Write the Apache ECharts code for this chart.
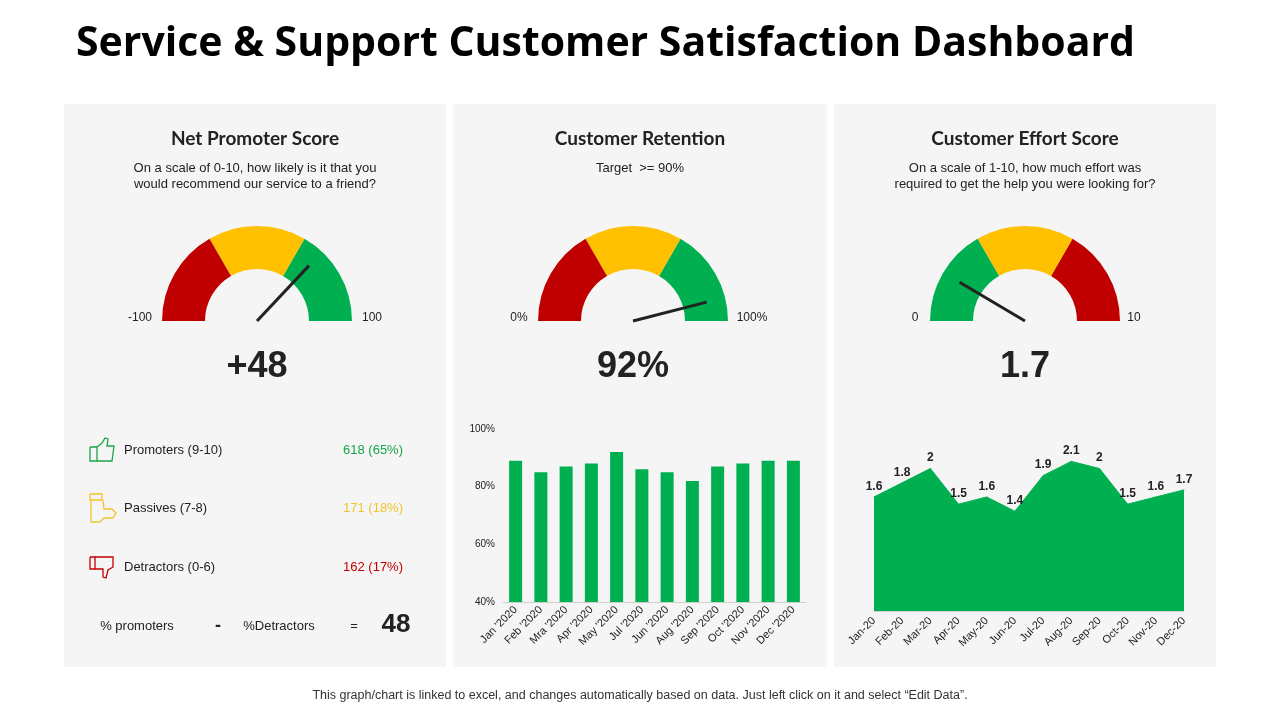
<!DOCTYPE html>
<html><head><meta charset="utf-8">
<script src="https://cdn.jsdelivr.net/npm/echarts@6/dist/echarts.min.js"></script>
<style>html,body{margin:0;padding:0;background:#fff}#c{width:1280px;height:720px}</style>
</head><body><div id="c"></div>
<script>
const retentionMonths = ["Jan '2020","Feb '2020","Mra '2020","Apr '2020","May '2020","Jul '2020","Jun '2020","Aug '2020","Sep '2020","Oct '2020","Nov '2020","Dec '2020"];
const retentionValues = [89,85,87,88,92,86,85,82,87,88,89,89];
const effortMonths = ["Jan-20","Feb-20","Mar-20","Apr-20","May-20","Jun-20","Jul-20","Aug-20","Sep-20","Oct-20","Nov-20","Dec-20"];
const effortValues = [1.6,1.8,2,1.5,1.6,1.4,1.9,2.1,2,1.5,1.6,1.7];
const npsValue = 48, retentionValue = 92, effortValue = 1.7;
const npsRows = [["Promoters (9-10)","618 (65%)","#1aa34a"],["Passives (7-8)","171 (18%)","#f2c42c"],["Detractors (0-6)","162 (17%)","#c00000"]];

const RED='#c00000', YEL='#ffc000', GRN='#00b050', TXT='#222';
const F='Lato, "Liberation Sans", sans-serif', A='"Liberation Sans", Arial, sans-serif';
const chart = echarts.init(document.getElementById('c'));

function gauge(cx, min, max, value, colors){
  return {type:'gauge', center:[cx,321], radius:95, min:min, max:max, startAngle:180, endAngle:0,
    axisLine:{lineStyle:{width:43, color:colors}},
    splitLine:{show:false}, axisTick:{show:false}, axisLabel:{show:false},
    pointer:{icon:'rect', length:'80%', width:3, offsetCenter:[0,0], itemStyle:{color:'#222'}},
    anchor:{show:false}, title:{show:false},
    detail:{offsetCenter:[0,'48%'], fontSize:36, fontWeight:'bold', color:TXT, fontFamily:A,
      formatter:function(v){return cx<400?'+'+v:(cx<800?v+'%':v.toFixed(1));}},
    data:[{value:value}], animation:false};
}
const g=[];
[[64,382],[453,374],[834,382]].forEach(p=>g.push({type:'rect',shape:{x:p[0],y:104,width:p[1],height:563},style:{fill:'#f5f5f5'},z:-10}));
function t(x,y,text,size,opt){return {type:'text',x:x,y:y,style:Object.assign({text:text,fontSize:size,fontFamily:A,fill:TXT,textAlign:'center',textVerticalAlign:'middle'},opt||{})};}
function pl(pts,c){return {type:'polyline',shape:{points:pts},style:{fill:'none',stroke:c,lineWidth:1.3}};}
g.push(t(76,44,'Service & Support Customer Satisfaction Dashboard',41,{textAlign:'left',fontWeight:'bold',fontFamily:'"Open Sans", sans-serif',fill:'#000'}));
g.push(t(255,139,'Net Promoter Score',19,{fontWeight:'bold',fontFamily:F}));
g.push(t(640,139,'Customer Retention',19,{fontWeight:'bold',fontFamily:F}));
g.push(t(1025,139,'Customer Effort Score',19,{fontWeight:'bold',fontFamily:F}));
g.push(t(255,176,'On a scale of 0-10, how likely is it that you\nwould recommend our service to a friend?',13,{lineHeight:16}));
g.push(t(640,168,'Target  >= 90%',13));
g.push(t(1025,176,'On a scale of 1-10, how much effort was\nrequired to get the help you were looking for?',13,{lineHeight:16}));
g.push(t(140,318,'-100',12),t(372,318,'100',12),t(519,318,'0%',12),t(752,318,'100%',12),t(915,318,'0',12),t(1134,318,'10',12));
npsRows.forEach((r,i)=>{const y=450+i*58.5;
  g.push(t(124,y,r[0],13,{textAlign:'left'}),t(403,y,r[1],13,{textAlign:'right',fill:r[2]}));});
g.push(pl([[90,447],[97,447],[97,461],[90,461],[90,447]],'#1aa34a'));
g.push(pl([[97,447],[102,443],[105,438],[108,439],[107,446],[114,446],[112,461],[97,461]],'#1aa34a'));
g.push(pl([[90,494],[102,494],[102,500],[90,500],[90,494]],'#f2c42c'));
g.push(pl([[91,500],[91,522],[100,522],[104,518],[113,518],[116,513],[112,509],[104,509],[103,500]],'#f2c42c'));
g.push(pl([[90,557],[95,557],[95,569],[90,569],[90,557]],'#c00000'));
g.push(pl([[95,557],[113,557],[113,567],[108,570],[106,578],[103,577],[103,569],[95,569]],'#c00000'));
g.push(t(137,626,'% promoters',13),t(218,626,'-',18,{fontWeight:'bold'}),t(279,626,'%Detractors',13),t(354,626,'=',13),t(396,625,String(npsValue),26,{fontWeight:'bold'}));
g.push(t(640,696,'This graph/chart is linked to excel, and changes automatically based on data. Just left click on it and select “Edit Data”.',12.5,{fill:'#333'}));

chart.setOption({
  animation:false,
  graphic:g,
  grid:[{left:503,top:429,width:303,height:173},{left:874,top:440,width:310,height:171}],
  xAxis:[
    {gridIndex:0,type:'category',data:retentionMonths,axisTick:{show:false},axisLine:{lineStyle:{color:'#d0d0d0'}},axisLabel:{rotate:45,fontSize:11,color:TXT,fontFamily:A,interval:0,margin:6}},
    {gridIndex:1,type:'category',data:effortMonths,boundaryGap:false,axisTick:{show:false},axisLine:{lineStyle:{color:'#d0d0d0'}},axisLabel:{rotate:45,fontSize:11,color:TXT,fontFamily:A,interval:0,margin:8}}
  ],
  yAxis:[
    {gridIndex:0,type:'value',min:40,max:100,interval:20,splitLine:{show:false},axisLine:{show:false},axisTick:{show:false},axisLabel:{formatter:'{value}%',fontSize:10,color:TXT,fontFamily:A}},
    {gridIndex:1,type:'value',min:0,max:2.4,show:false,splitLine:{show:false}}
  ],
  series:[
    gauge(257,-100,100,npsValue,[[1/3,RED],[2/3,YEL],[1,GRN]]),
    gauge(633,0,100,retentionValue,[[1/3,RED],[2/3,YEL],[1,GRN]]),
    gauge(1025,0,10,effortValue,[[1/3,GRN],[2/3,YEL],[1,RED]]),
    {type:'bar',xAxisIndex:0,yAxisIndex:0,data:retentionValues,barWidth:13,itemStyle:{color:GRN}},
    {type:'line',xAxisIndex:1,yAxisIndex:1,data:effortValues,symbol:'circle',symbolSize:1,showSymbol:true,itemStyle:{color:GRN},lineStyle:{width:1,color:GRN},areaStyle:{color:GRN,opacity:1},
      label:{show:true,position:'top',distance:4,fontSize:12,fontWeight:'bold',color:TXT,fontFamily:A}}
  ]
});
</script></body></html>
